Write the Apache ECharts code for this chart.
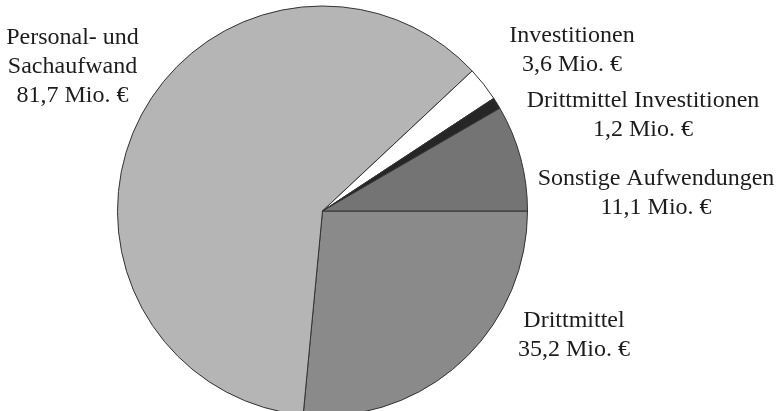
<!DOCTYPE html>
<html>
<head>
<meta charset="utf-8">
<script src="https://cdn.jsdelivr.net/npm/echarts@6/dist/echarts.min.js"></script>
<style>
html,body{margin:0;padding:0;background:#fff;}
#c{width:780px;height:411px;}
</style>
</head>
<body>
<div id="c"></div>
<script>
// Data (clockwise from 3 o'clock)
const categories = ['Drittmittel', 'Personal- und\nSachaufwand', 'Investitionen', 'Drittmittel Investitionen', 'Sonstige Aufwendungen'];
const values = [35.2, 81.7, 3.6, 1.2, 11.1];
const unit = 'Mio. €';

// Styles / layout
const colors = ['#8a8a8a', '#b5b5b5', '#ffffff', '#262626', '#747474'];
const labelPos = [[574, 335.5], [72.5, 67], [572, 50], [643, 115], [656, 193.5]];

const chart = echarts.init(document.getElementById('c'), null, {renderer: 'canvas'});
chart.setOption({
  animation: false,
  backgroundColor: '#ffffff',
  series: [{
    type: 'pie',
    center: [322.5, 211],
    radius: [0, 205],
    startAngle: 0,
    clockwise: true,
    avoidLabelOverlap: false,
    itemStyle: {borderColor: '#333', borderWidth: 1},
    label: {
      show: true,
      position: 'outside',
      fontFamily: 'Liberation Serif',
      fontSize: 24,
      lineHeight: 29,
      color: '#1c1c1c',
      align: 'center',
      formatter: p => p.name + '\n' + p.value.toFixed(1).replace('.', ',') + ' ' + unit
    },
    labelLine: {show: false},
    labelLayout: p => ({x: labelPos[p.dataIndex][0], y: labelPos[p.dataIndex][1], align: 'center', verticalAlign: 'middle'}),
    emphasis: {disabled: true},
    data: categories.map((n, i) => ({name: n, value: values[i], itemStyle: {color: colors[i]}}))
  }]
});
</script>
</body>
</html>
